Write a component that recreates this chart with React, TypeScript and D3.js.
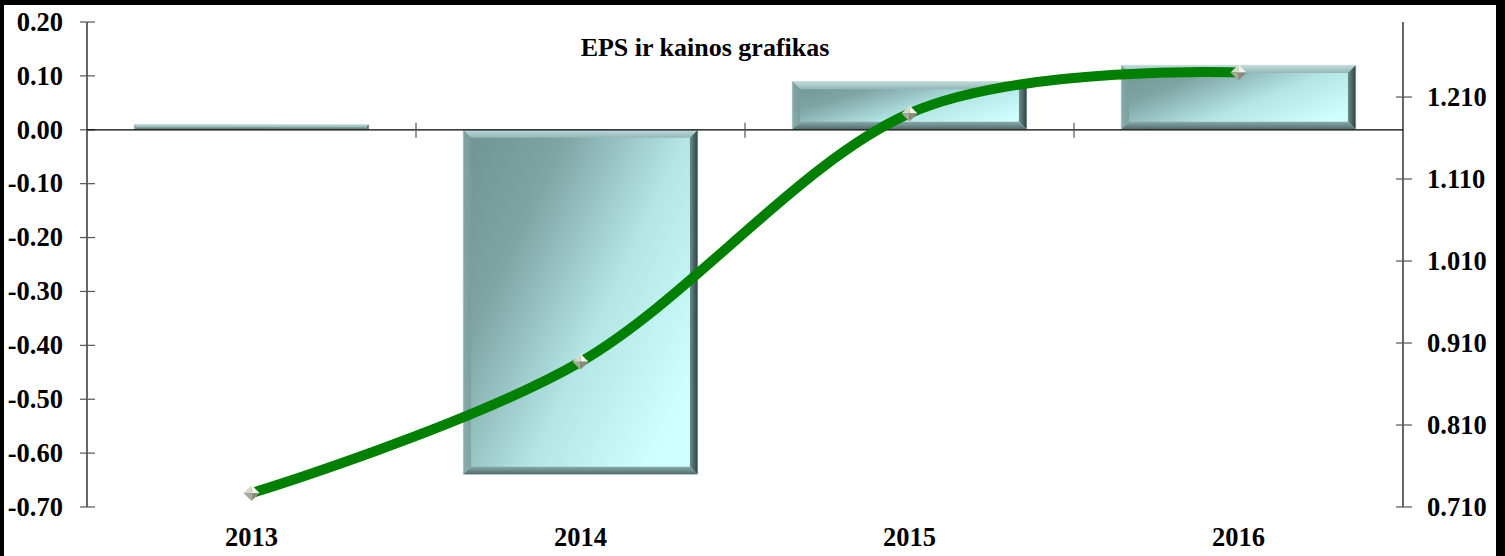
import { useEffect, useRef } from 'react';
import * as d3 from 'd3';

const categories = ['2013', '2014', '2015', '2016'];
const epsValues = [0.01, -0.64, 0.09, 0.12];
const priceValues = [0.727, 0.887, 1.19, 1.24];
const leftTicks = [0.2, 0.1, 0, -0.1, -0.2, -0.3, -0.4, -0.5, -0.6, -0.7];
const rightTicks = [0.71, 0.81, 0.91, 1.01, 1.11, 1.21];
const title = 'EPS ir kainos grafikas';

const W = 1505;
const H = 556;
const FONT = '"Liberation Serif", "Times New Roman", serif';
const LABEL_SIZE = 26.5;

const fmt = (f: string) => (v: number) => d3.format(f)(v).replace('\u2212', '-');

export default function App() {
  const ref = useRef<SVGSVGElement>(null);

  useEffect(() => {
    if (!ref.current) return;
    const svg = d3.select(ref.current);
    svg.selectAll('*').remove();

    const left = 87, right = 1403, top = 22, bottom = 507;

    const x = d3.scaleBand().domain(categories).range([left, right]).paddingInner(0).paddingOuter(0);
    const yL = d3.scaleLinear().domain([-0.7, 0.2]).range([bottom, top]);
    const yR = d3.scaleLinear().domain([0.71, 1.3015]).range([bottom, top]);

    // frame
    svg.append('rect').attr('width', W).attr('height', H).attr('fill', '#000');
    svg.append('rect').attr('x', 4).attr('y', 5).attr('width', 1492).attr('height', H - 5).attr('fill', '#fff');

    const defs = svg.append('defs');
    const mkGrad = (id: string, x2: number, y2: number, stops: [string, string][]) => {
      const g = defs.append('linearGradient').attr('id', id)
        .attr('x1', 0).attr('y1', 0).attr('x2', x2).attr('y2', y2);
      stops.forEach(([o, c]) => g.append('stop').attr('offset', o).attr('stop-color', c));
    };
    mkGrad('barFace', 1, 0.7, [['0%', '#6f9292'], ['30%', '#80a4a4'], ['65%', '#b4e6e6'], ['100%', '#d0ffff']]);
    mkGrad('bevTop', 0, 1, [['0%', '#c0dcdc'], ['100%', '#94b6b6']]);
    mkGrad('bevLeft', 1, 0, [['0%', '#86a8a8'], ['100%', '#7a9c9c']]);
    mkGrad('bevRight', 1, 0, [['0%', '#6a8c8c'], ['100%', '#2c3e3e']]);
    mkGrad('bevBottom', 0, 1, [['0%', '#88aaaa'], ['100%', '#4f6868']]);

    // bars
    const barW = x.bandwidth() * 0.714;
    const bars = svg.append('g');
    categories.forEach((c, i) => {
      const v = epsValues[i];
      const bx = x(c)! + (x.bandwidth() - barW) / 2;
      const y0 = Math.min(yL(v), yL(0));
      const h = Math.abs(yL(v) - yL(0));
      const b = Math.min(8, h / 2, barW / 2);
      const g = bars.append('g');
      g.append('rect').attr('x', bx).attr('y', y0).attr('width', barW).attr('height', h).attr('fill', 'url(#barFace)');
      const x1 = bx, x2 = bx + barW, y1 = y0, y2 = y0 + h;
      g.append('polygon').attr('points', `${x1},${y1} ${x2},${y1} ${x2 - b},${y1 + b} ${x1 + b},${y1 + b}`)
        .attr('fill', 'url(#bevTop)');
      g.append('polygon').attr('points', `${x1},${y1} ${x1 + b},${y1 + b} ${x1 + b},${y2 - b} ${x1},${y2}`)
        .attr('fill', 'url(#bevLeft)').attr('opacity', 0.8);
      g.append('polygon').attr('points', `${x2},${y1} ${x2},${y2} ${x2 - b},${y2 - b} ${x2 - b},${y1 + b}`)
        .attr('fill', 'url(#bevRight)');
      g.append('polygon').attr('points', `${x1},${y2} ${x1 + b},${y2 - b} ${x2 - b},${y2 - b} ${x2},${y2}`)
        .attr('fill', 'url(#bevBottom)');
      g.append('rect').attr('x', x1).attr('y', y1).attr('width', barW).attr('height', h)
        .attr('fill', 'none').attr('stroke', '#d4e0e0').attr('stroke-width', 0.7);
    });

    const labelText = (sel: d3.Selection<SVGTextElement, unknown, null, undefined>) =>
      sel.attr('font-family', FONT).attr('font-weight', 'bold').attr('font-size', LABEL_SIZE).attr('fill', '#000');

    // left axis
    svg.append('line').attr('x1', left).attr('x2', left).attr('y1', top).attr('y2', bottom).attr('stroke', '#000').attr('stroke-width', 1.2);
    const lt = svg.append('g');
    leftTicks.forEach(t => {
      lt.append('line').attr('x1', left - 7).attr('x2', left + 8).attr('y1', yL(t)).attr('y2', yL(t)).attr('stroke', '#555').attr('stroke-width', 1.2);
      lt.append('text').attr('x', 63).attr('y', yL(t)).attr('dy', '0.33em').attr('text-anchor', 'end')
        .call(labelText as any).text(fmt('.2f')(t));
    });

    // right axis
    svg.append('line').attr('x1', right).attr('x2', right).attr('y1', top).attr('y2', bottom).attr('stroke', '#000').attr('stroke-width', 1.2);
    const rt = svg.append('g');
    rightTicks.forEach(t => {
      rt.append('line').attr('x1', right - 7).attr('x2', right + 9).attr('y1', yR(t)).attr('y2', yR(t)).attr('stroke', '#555').attr('stroke-width', 1.2);
      rt.append('text').attr('x', 1427).attr('y', yR(t)).attr('dy', '0.33em').attr('text-anchor', 'start')
        .call(labelText as any).text(fmt('.3f')(t));
    });

    // category axis at zero
    svg.append('line').attr('x1', left).attr('x2', right).attr('y1', yL(0)).attr('y2', yL(0)).attr('stroke', '#000').attr('stroke-width', 1.2);
    categories.slice(1).forEach(c => {
      svg.append('line').attr('x1', x(c)!).attr('x2', x(c)!).attr('y1', yL(0) - 7).attr('y2', yL(0) + 8)
        .attr('stroke', '#555').attr('stroke-width', 1.2);
    });
    categories.forEach(c => {
      svg.append('text').attr('x', x(c)! + x.bandwidth() / 2).attr('y', 546).attr('text-anchor', 'middle')
        .call(labelText as any).text(c);
    });

    // price line
    const pts: [number, number][] = categories.map((c, i) => [x(c)! + x.bandwidth() / 2, yR(priceValues[i])]);
    const line = d3.line().curve(d3.curveCardinal.tension(0));
    svg.append('path').attr('d', line(pts)).attr('fill', 'none').attr('stroke', '#008000')
      .attr('stroke-width', 10).attr('stroke-linecap', 'butt');

    // diamond markers
    const s = 8;
    pts.forEach(([px, py]) => {
      const m = svg.append('g').attr('transform', `translate(${px},${py})`);
      m.append('polygon').attr('points', `0,0 0,${-s} ${-s},0`).attr('fill', '#d8d8cc');
      m.append('polygon').attr('points', `0,0 0,${-s} ${s},0`).attr('fill', '#f4f4ee');
      m.append('polygon').attr('points', `0,0 ${-s},0 0,${s}`).attr('fill', '#a8a898');
      m.append('polygon').attr('points', `0,0 ${s},0 0,${s}`).attr('fill', '#8a8a7c');
    });

    // title
    svg.append('text').attr('x', 705).attr('y', 56).attr('text-anchor', 'middle')
      .attr('font-family', FONT).attr('font-weight', 'bold').attr('font-size', 26).attr('fill', '#000')
      .text(title);
  }, []);

  return (
    <div style={{ position: 'fixed', left: 0, top: 0 }}>
      <svg ref={ref} width={W} height={H} style={{ display: 'block' }} />
    </div>
  );
}
